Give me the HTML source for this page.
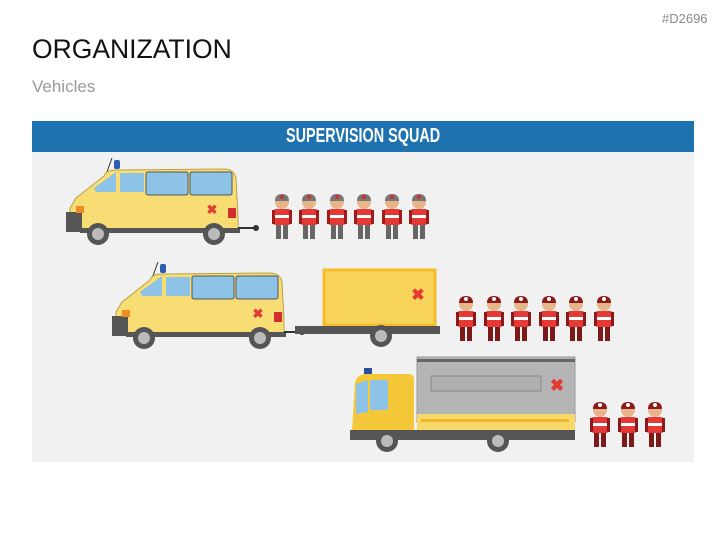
<!DOCTYPE html>
<html><head><meta charset="utf-8"><style>
body{margin:0;width:727px;height:545px;background:#fff;overflow:hidden;font-family:"Liberation Sans",sans-serif;position:relative}
.t{position:absolute}
</style></head><body>
<div class="t" style="left:662px;top:11px;font-size:13px;color:#888">#D2696</div>
<div class="t" style="left:32px;top:34px;font-size:26.5px;color:#111">ORGANIZATION</div>
<div class="t" style="left:32px;top:77px;font-size:17px;color:#999">Vehicles</div>
<div class="t" style="left:32px;top:121px;width:662px;height:31px;background:#1f72b0;color:#fff;font-weight:bold;font-size:20px;line-height:31px;text-align:center"><span style="display:inline-block;transform:scaleX(0.72)">SUPERVISION SQUAD</span></div>
<div class="t" style="left:32px;top:152px;width:662px;height:310px;background:#f1f1f1"></div>
<svg class="t" style="left:0;top:0" width="727" height="545">
<defs>
<g id="van">
<line x1="38" y1="22" x2="46" y2="0" stroke="#333" stroke-width="1"/>
<rect x="48" y="2" width="6" height="9" rx="2" fill="#2a5db0"/>
<path d="M10 40 L38 18 Q40 12 50 12 L158 11 Q168 11 170 20 L172 58 L172 72 L8 72 L4 66 L4 50 Z" fill="#f7dd73" stroke="#b9a24a" stroke-width="1"/>
<path d="M28 30 L50 14 L50 34 L30 34 Z" fill="#8cc3e6"/>
<rect x="54" y="15" width="24" height="19" fill="#8cc3e6"/>
<rect x="80" y="14" width="42" height="23" rx="2" fill="#8cc3e6" stroke="#555"/>
<rect x="124" y="14" width="42" height="23" rx="2" fill="#8cc3e6" stroke="#555"/>
<text x="146" y="56" fill="#e53935" font-size="13" font-weight="bold" text-anchor="middle">✖</text>
<rect x="162" y="50" width="8" height="10" fill="#d32f2f"/>
<rect x="0" y="54" width="16" height="20" fill="#555"/>
<rect x="10" y="48" width="8" height="7" fill="#f08a24"/>
<rect x="14" y="70" width="160" height="5" fill="#555"/>
<path d="M172 70 L188 70" stroke="#333" stroke-width="2"/><circle cx="190" cy="70" r="3" fill="#333"/>
<circle cx="32" cy="76" r="11" fill="#555"/><circle cx="32" cy="76" r="6" fill="#bbb"/>
<circle cx="148" cy="76" r="11" fill="#555"/><circle cx="148" cy="76" r="6" fill="#bbb"/>
</g>
<g id="p">
<circle cx="10" cy="8" r="7" fill="#e8b48a"/>
<path d="M3 7 Q3 0 10 0 Q17 0 17 7 Z" fill="#777"/>
<circle cx="10" cy="3" r="2" fill="#d32f2f"/>
<rect x="1" y="15" width="18" height="16" rx="3" fill="#e53935"/>
<rect x="1" y="21" width="18" height="3" fill="#fff"/>
<rect x="0" y="16" width="3" height="14" fill="#a01c1c"/><rect x="17" y="16" width="3" height="14" fill="#a01c1c"/>
<rect x="4" y="31" width="5" height="14" fill="#666"/><rect x="11" y="31" width="5" height="14" fill="#666"/>
</g>
<g id="pr">
<circle cx="10" cy="8" r="7" fill="#e8b48a"/>
<path d="M3 7 Q3 0 10 0 Q17 0 17 7 Z" fill="#8b1a1a"/>
<circle cx="10" cy="3" r="2" fill="#fff"/>
<rect x="1" y="15" width="18" height="16" rx="3" fill="#e53935"/>
<rect x="1" y="21" width="18" height="3" fill="#fff"/>
<rect x="0" y="16" width="3" height="14" fill="#8b1a1a"/><rect x="17" y="16" width="3" height="14" fill="#8b1a1a"/>
<rect x="4" y="31" width="5" height="14" fill="#7a1a1a"/><rect x="11" y="31" width="5" height="14" fill="#7a1a1a"/>
</g>
</defs>
<use href="#van" transform="translate(66,158)"/>
<use href="#p" x="272" y="194"/><use href="#p" x="299" y="194"/><use href="#p" x="327" y="194"/><use href="#p" x="354" y="194"/><use href="#p" x="382" y="194"/><use href="#p" x="409" y="194"/>
<use href="#van" transform="translate(112,262)"/>
<rect x="324" y="270" width="111" height="55" fill="#f7d35a" stroke="#f5bc2c" stroke-width="3"/>
<text x="418" y="300" fill="#e53935" font-size="16" font-weight="bold" text-anchor="middle">✖</text>
<rect x="295" y="326" width="145" height="8" fill="#555"/>
<circle cx="381" cy="336" r="11" fill="#555"/><circle cx="381" cy="336" r="6" fill="#bbb"/>
<use href="#pr" x="456" y="296"/><use href="#pr" x="484" y="296"/><use href="#pr" x="511" y="296"/><use href="#pr" x="539" y="296"/><use href="#pr" x="566" y="296"/><use href="#pr" x="594" y="296"/>
<rect x="364" y="368" width="8" height="7" fill="#2a4fa0"/>
<path d="M355 382 Q358 374 366 374 L410 374 Q414 375 414 380 L414 432 L352 432 Z" fill="#f5c83a"/>
<path d="M356 384 L368 380 L368 412 L356 414 Z" fill="#8cc3e6"/>
<rect x="370" y="380" width="18" height="30" fill="#8cc3e6"/>
<rect x="417" y="357" width="158" height="65" fill="#b5b5b5" stroke="#999"/>
<rect x="417" y="359" width="158" height="3" fill="#666"/>
<rect x="431" y="376" width="110" height="15" fill="#b0b0b0" stroke="#888"/>
<text x="557" y="391" fill="#e53935" font-size="17" font-weight="bold" text-anchor="middle">✖</text>
<rect x="417" y="414" width="158" height="16" fill="#f7d96a"/>
<rect x="421" y="419" width="148" height="3" fill="#f0b52a"/>
<rect x="350" y="430" width="225" height="10" fill="#555"/>
<circle cx="387" cy="441" r="11" fill="#555"/><circle cx="387" cy="441" r="6" fill="#bbb"/>
<circle cx="498" cy="441" r="11" fill="#555"/><circle cx="498" cy="441" r="6" fill="#bbb"/>
<use href="#pr" x="590" y="402"/><use href="#pr" x="618" y="402"/><use href="#pr" x="645" y="402"/>
</svg>
</body></html>
